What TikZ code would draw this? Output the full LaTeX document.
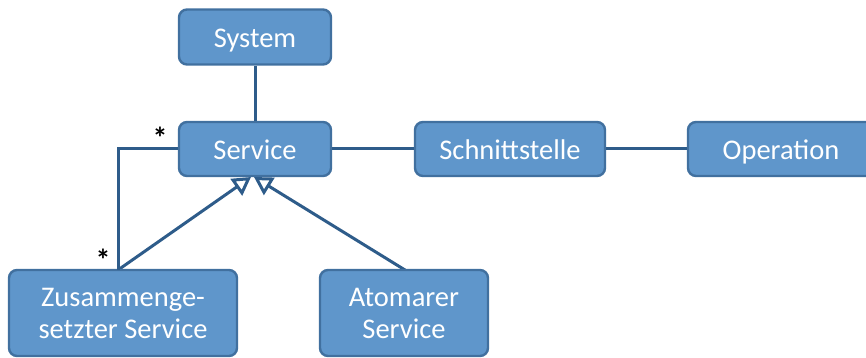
\documentclass[tikz,border=0pt]{standalone}
\usepackage{fontspec}
\setmainfont{Carlito}
\usetikzlibrary{arrows.meta}
\definecolor{boxfill}{HTML}{5F96CB}
\definecolor{boxline}{HTML}{41709F}
\definecolor{conn}{HTML}{2E5C8A}
\tikzset{
  cls/.style={draw=boxline, fill=boxfill, line width=2.4pt, rounded corners=8pt,
    text=white, font=\fontsize{28.5}{32}\selectfont, align=center, inner sep=0pt},
  oneline/.style={cls, text height=21pt, text depth=0pt},
  assoc/.style={draw=conn, line width=3pt},
  inherit/.style={assoc, -{Triangle[open, length=18pt, width=20pt, line width=3pt, fill=white]}},
  mult/.style={font=\fontsize{30}{30}\selectfont\bfseries, inner sep=0pt}
}
\begin{document}
\begin{tikzpicture}[x=1pt, y=-1pt]
\useasboundingbox (0,0) rectangle (866,358);
\begin{scope}
\clip (0,0) rectangle (866,358);
\coordinate (corner) at (118,149);
\coordinate (compTop) at (118,270);
\coordinate (atomTop) at (405,270);
\coordinate (tipA) at (251,177);
\coordinate (tipB) at (254,177);

% generalisations first, so the box outlines sit over the arrow tips
\draw[inherit] (compTop) -- (tipA);
\draw[inherit] (atomTop) -- (tipB);

\node[oneline, minimum width=152pt, minimum height=55pt] (sys) at (255,37) {System};
\node[oneline, minimum width=152pt, minimum height=54pt] (svc) at (255,149) {Service};
\node[oneline, minimum width=190pt, minimum height=54pt] (ifc) at (510,149) {Schnittstelle};
\node[oneline, minimum width=186pt, minimum height=54pt] (op) at (781,149) {Operation};
\node[cls, minimum width=228pt, minimum height=86pt] (comp) at (123,313) {Zusammenge-\\setzter Service};
\node[cls, minimum width=168pt, minimum height=86pt] (atom) at (404,313) {Atomarer\\Service};

\draw[assoc] (sys) -- (svc);
\draw[assoc] (svc) -- (ifc);
\draw[assoc] (ifc) -- (op);
\draw[assoc] (svc.west) -- (corner) -- (compTop);

\node[mult] (m1) at (160,138) {*};
\node[mult] (m2) at (103,260) {*};
\end{scope}
\end{tikzpicture}
\end{document}
